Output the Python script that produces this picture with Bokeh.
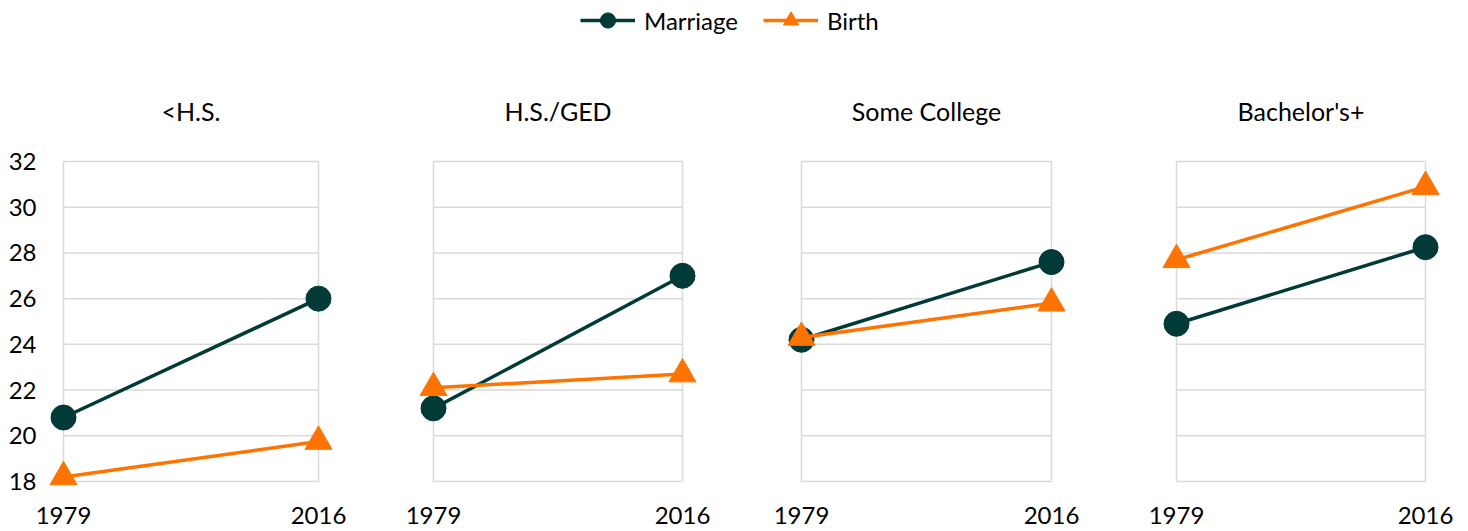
from bokeh.plotting import figure
from bokeh.models import Range1d, FixedTicker, Legend, LegendItem, ColumnDataSource
from bokeh.layouts import column, row
from bokeh.embed import file_html
from bokeh.resources import INLINE

years = [1979, 2016]
groups = ["<H.S.", "H.S./GED", "Some College", "Bachelor's+"]
marriage = [[20.8, 26.0], [21.2, 27.0], [24.2, 27.6], [24.9, 28.25]]
birth = [[18.2, 19.75], [22.1, 22.7], [24.3, 25.8], [27.7, 30.9]]
y_ticks = [18, 20, 22, 24, 26, 28, 30, 32]

GREEN = "#013A37"
ORANGE = "#FF7300"
GRID = "#D9D9D9"
FONT = "Lato"

# layout (pixels)
inner_w = [255, 249, 250, 249]
borders = [(48, 42), (43, 45), (44, 47), (48, 20)]
PAD_X = 15
PAD_TOP = 2
PAD_BOT = 10
INNER_H = 320
TOP_B = 99
PANEL_H = 468
LEG_H = 60

figs = []
for i, g in enumerate(groups):
    lb, rb = borders[i]
    fw = inner_w[i] + 2 * PAD_X
    xspan = years[1] - years[0]
    xpad = PAD_X * xspan / inner_w[i]
    yspan = y_ticks[-1] - y_ticks[0]
    ypx = yspan / INNER_H
    p = figure(width=lb + fw + rb, height=PANEL_H, output_backend="svg",
               toolbar_location=None,
               x_range=Range1d(years[0] - xpad, years[1] + xpad),
               y_range=Range1d(y_ticks[0] - PAD_BOT * ypx, y_ticks[-1] + PAD_TOP * ypx),
               min_border_left=lb, min_border_right=rb,
               min_border_top=TOP_B, min_border_bottom=PANEL_H - TOP_B - INNER_H - PAD_TOP - PAD_BOT,
               title=g)
    p.title.align = "center"
    p.title.text_font = FONT
    p.title.text_font_size = "25px"
    p.title.text_font_style = "normal"
    p.title.text_color = "#000000"
    p.title.standoff = 67
    p.outline_line_color = None
    p.background_fill_color = "white"
    p.border_fill_color = "white"
    p.xaxis.ticker = FixedTicker(ticks=years)
    p.yaxis.ticker = FixedTicker(ticks=y_ticks)
    for ax in [p.xaxis[0], p.yaxis[0]]:
        ax.axis_line_color = None
        ax.major_tick_line_color = None
        ax.minor_tick_line_color = None
        ax.major_tick_out = 0
        ax.major_tick_in = 0
        ax.major_label_text_font = FONT
        ax.major_label_text_font_size = "24px"
        ax.major_label_text_color = "#000000"
    p.xaxis.major_label_standoff = 15
    p.yaxis.major_label_standoff = 12
    if i > 0:
        p.yaxis.visible = False
    p.grid.visible = False
    # gray box + horizontal gridlines drawn from the tick arrays
    n = len(y_ticks)
    p.segment(x0=[years[0]] * n, x1=[years[1]] * n, y0=y_ticks, y1=y_ticks,
              line_color=GRID, line_width=1.5)
    p.segment(x0=years, x1=years, y0=[y_ticks[0]] * 2, y1=[y_ticks[-1]] * 2,
              line_color=GRID, line_width=1.5)
    src_m = ColumnDataSource(dict(x=years, y=marriage[i]))
    src_b = ColumnDataSource(dict(x=years, y=birth[i]))
    p.line("x", "y", source=src_m, line_color=GREEN, line_width=3.5)
    p.scatter("x", "y", source=src_m, marker="circle", size=25, fill_color=GREEN, line_color=GREEN)
    p.line("x", "y", source=src_b, line_color=ORANGE, line_width=3.5)
    p.scatter("x", "y", source=src_b, marker="triangle", size=27, fill_color=ORANGE, line_color=ORANGE)
    figs.append(p)

# legend figure
lf = figure(width=sum(b[0] + b[1] + w + 2 * PAD_X for b, w in zip(borders, inner_w)),
            height=LEG_H, output_backend="svg", toolbar_location=None,
            x_range=Range1d(0, 1), y_range=Range1d(0, 1), min_border=0)
lf.outline_line_color = None
lf.axis.visible = False
lf.grid.visible = False
hidden = ColumnDataSource(dict(x=[-10, -11], y=[-10, -11]))
lm = lf.line("x", "y", source=hidden, line_color=GREEN, line_width=3.5)
sm = lf.scatter("x", "y", source=hidden, marker="circle", size=15, fill_color=GREEN, line_color=GREEN)
lb_ = lf.line("x", "y", source=hidden, line_color=ORANGE, line_width=3.5)
sb = lf.scatter("x", "y", source=hidden, marker="triangle", size=15, fill_color=ORANGE, line_color=ORANGE)
legend = Legend(items=[LegendItem(label="Marriage", renderers=[lm, sm]),
                       LegendItem(label="Birth", renderers=[lb_, sb])],
                orientation="horizontal", location=(580, LEG_H - 39),
                glyph_width=55, glyph_height=38, label_standoff=9, spacing=25,
                label_text_font=FONT, label_text_font_size="24px",
                label_text_color="#000000", border_line_color=None,
                background_fill_alpha=0, margin=0, padding=0)
lf.add_layout(legend, "center")

layout = column(lf, row(*figs))
open("out.html", "w").write(file_html(layout, INLINE))
